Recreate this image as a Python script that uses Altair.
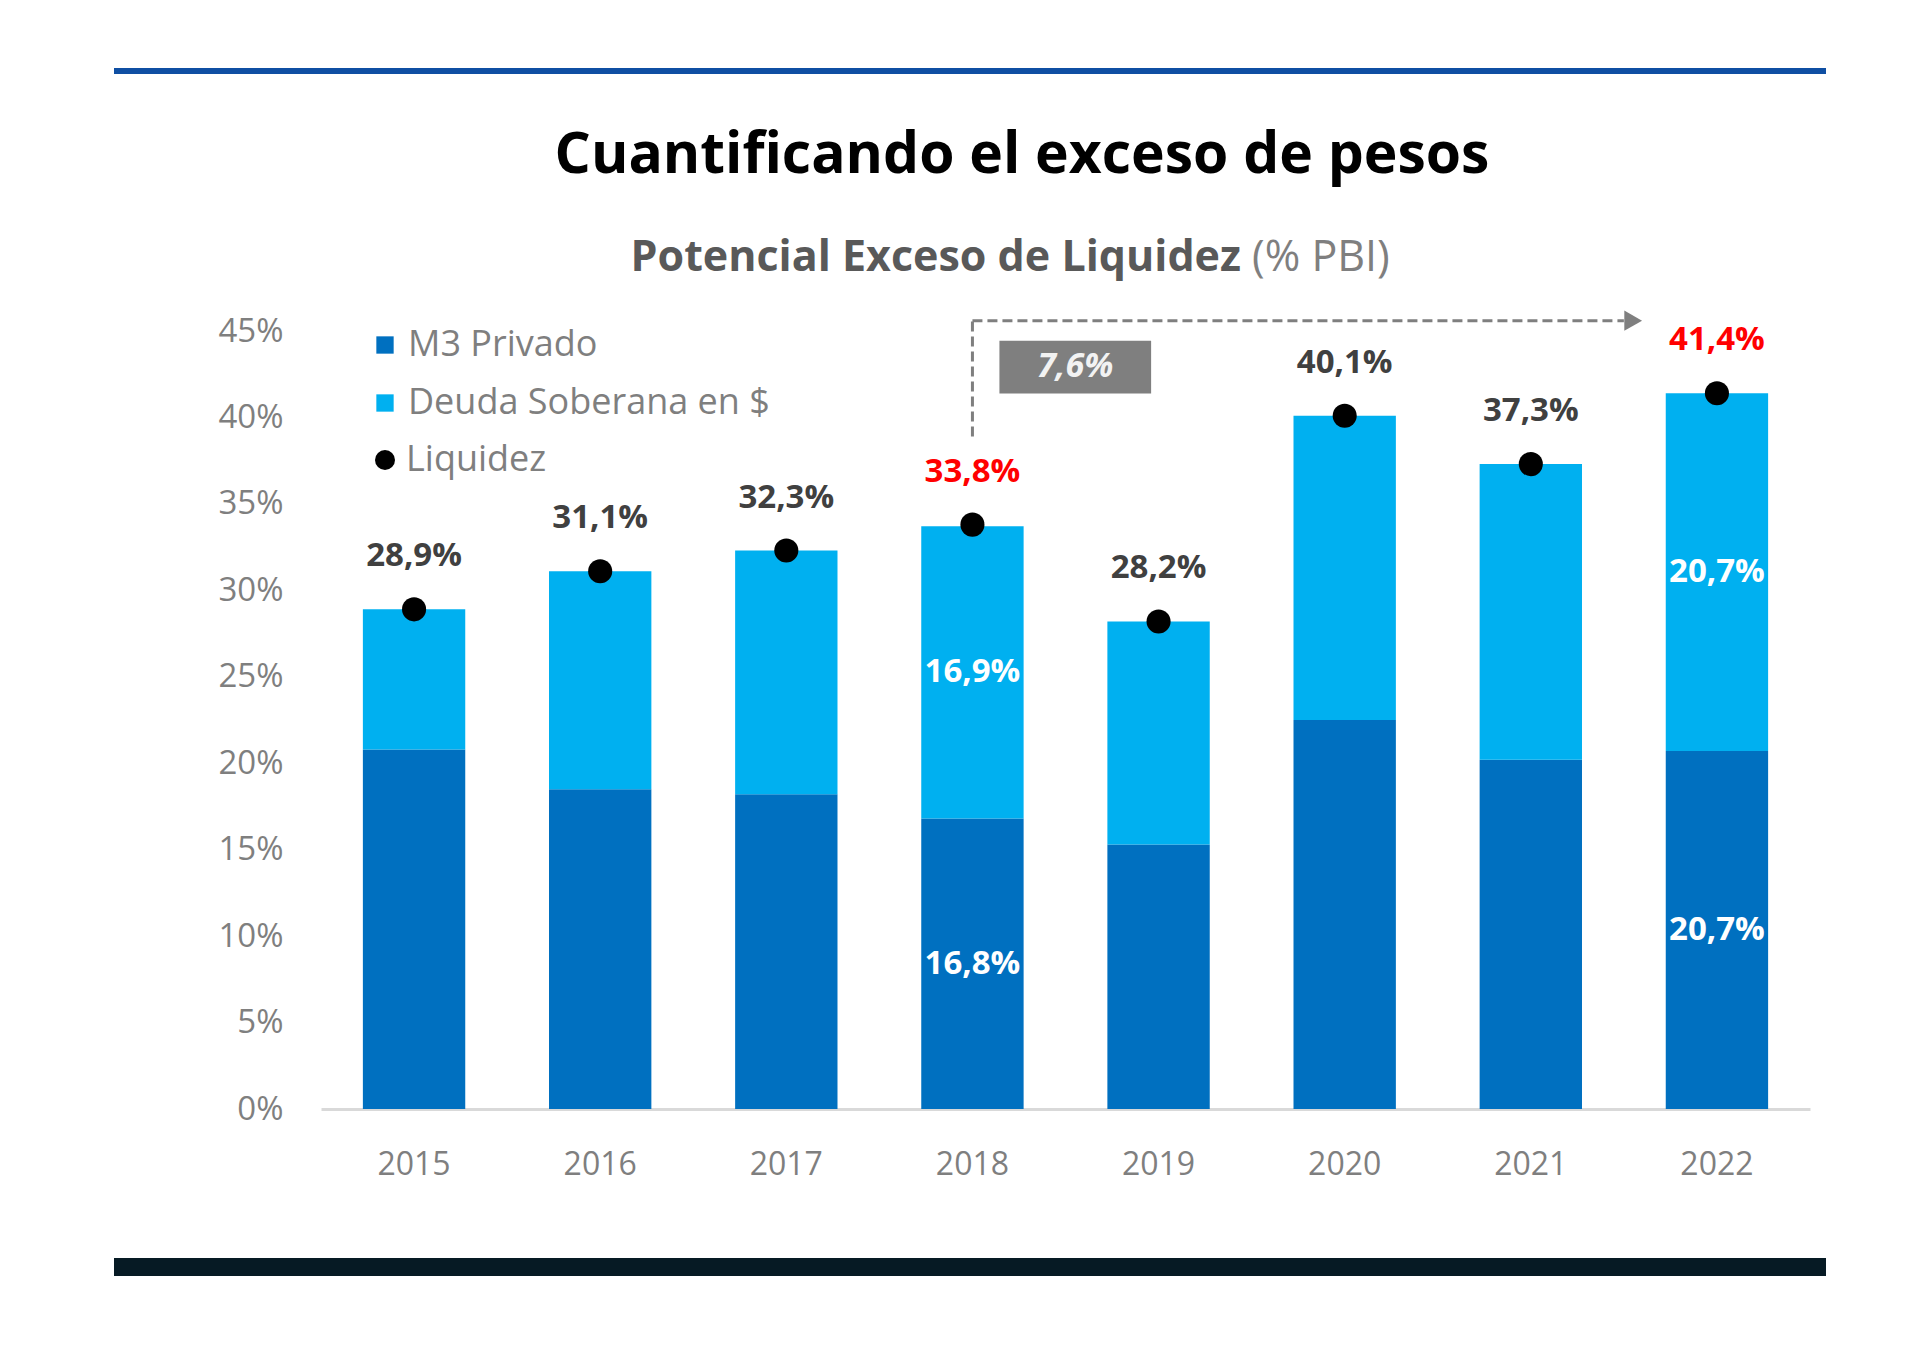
import altair as alt
import pandas as pd

# ---------------- data ----------------
years = ["2015", "2016", "2017", "2018", "2019", "2020", "2021", "2022"]
m3_privado = [20.8, 18.5, 18.2, 16.8, 15.3, 22.5, 20.2, 20.7]
deuda_soberana = [8.1, 12.6, 14.1, 16.9, 12.9, 17.6, 17.1, 20.7]
liquidez = [28.9, 31.1, 32.3, 33.8, 28.2, 40.1, 37.3, 41.4]
highlight_years = ["2018", "2022"]

series_names = ["M3 Privado", "Deuda Soberana en $"]
series_colors = ["#0070C0", "#00B0F0"]
point_name = "Liquidez"
y_ticks = [0, 5, 10, 15, 20, 25, 30, 35, 40, 45]

title_text = "Cuantificando el exceso de pesos"
subtitle_bold = "Potencial Exceso de Liquidez"
subtitle_rest = "(% PBI)"

# annotation (x in band-index units, y in % PBI)
arrow_x = [3.5, 7.0]
arrow_y = [38.9, 45.6]
arrow_head_x = 7.05
box_x = [3.645, 4.46]
box_y = [41.39, 44.43]
box_label = "7,6%"


def fmt(v):
    return f"{v:.1f}%".replace(".", ",")


# ---------------- tables ----------------
rows = []
for i, yr in enumerate(years):
    base = 0.0
    for name, vals in zip(series_names, [m3_privado, deuda_soberana]):
        v = vals[i]
        rows.append({"year": yr, "serie": name, "y0": base, "y1": base + v,
                     "mid": base + v / 2, "label": fmt(v),
                     "show": yr in highlight_years})
        base += v
bars_df = pd.DataFrame(rows)

liq_df = pd.DataFrame({
    "year": years,
    "liquidez": liquidez,
    "label": [fmt(v) for v in liquidez],
    "highlight": [y in highlight_years for y in years],
    "serie": [point_name] * len(years),
})

rule_df = pd.DataFrame({
    "x0": [arrow_x[0], arrow_x[0]],
    "x1": [arrow_x[0], arrow_x[1]],
    "y0": [arrow_y[0], arrow_y[1]],
    "y1": [arrow_y[1], arrow_y[1]],
})
head_df = pd.DataFrame({"x": [arrow_head_x], "y": [arrow_y[1]]})
box_df = pd.DataFrame({"x0": [box_x[0]], "x1": [box_x[1]], "y0": [box_y[0]], "y1": [box_y[1]],
                       "xm": [(box_x[0] + box_x[1]) / 2], "ym": [(box_y[0] + box_y[1]) / 2],
                       "label": [box_label]})

# ---------------- encodings ----------------
GREY = "#7f7f7f"
x_enc = alt.X("year:N", sort=years, title=None,
              scale=alt.Scale(paddingInner=0.45, paddingOuter=0.225),
              axis=alt.Axis(labelFontSize=32, labelColor=GREY, labelAngle=0,
                            domainColor="#d9d9d9", domainWidth=3, ticks=False,
                            labelPadding=40, grid=False))
y_scale = alt.Scale(domain=[0, 45], nice=False)
y_axis = alt.Axis(values=y_ticks, labelExpr="datum.value + '%'", labelFontSize=33,
                  labelColor=GREY, domain=False, ticks=False, grid=False,
                  labelPadding=38, title=None)

bars = alt.Chart(bars_df).mark_bar().encode(
    x=x_enc,
    y=alt.Y("y0:Q", scale=y_scale, axis=y_axis),
    y2="y1:Q",
    color=alt.Color("serie:N", scale=alt.Scale(domain=series_names, range=series_colors),
                    legend=alt.Legend(orient="none", legendX=46, legendY=-4, title=None,
                                      symbolType="square", symbolSize=300,
                                      labelFontSize=36, labelColor=GREY, padding=0,
                                      rowPadding=22, labelOffset=5, labelLimit=1000)),
)

inner_labels = alt.Chart(bars_df).transform_filter("datum.show").mark_text(
    color="white", fontWeight="bold", fontSize=33, baseline="middle"
).encode(x=alt.X("year:N", sort=years), y=alt.Y("mid:Q"), text="label:N")

points = alt.Chart(liq_df).mark_circle(size=580, opacity=1).encode(
    x=alt.X("year:N", sort=years),
    y=alt.Y("liquidez:Q"),
    fill=alt.Fill("serie:N", scale=alt.Scale(domain=[point_name], range=["#000000"]),
                  legend=alt.Legend(orient="none", legendX=46, legendY=111, title=None,
                                    symbolType="circle", symbolSize=400,
                                    labelFontSize=36, labelColor=GREY, padding=0,
                                    labelOffset=3, labelLimit=1000)),
)

total_labels = alt.Chart(liq_df).mark_text(
    fontWeight="bold", fontSize=33, dy=-53, baseline="middle"
).encode(
    x=alt.X("year:N", sort=years), y=alt.Y("liquidez:Q"), text="label:N",
    color=alt.condition("datum.highlight", alt.value("#FF0000"), alt.value("#404040")),
)

main = alt.layer(bars, inner_labels, points, total_labels)

ax = alt.Scale(domain=[0, 8], nice=False)
rules = alt.Chart(rule_df).mark_rule(strokeDash=[10, 5], strokeWidth=3, color=GREY).encode(
    x=alt.X("x0:Q", scale=ax, axis=None), x2="x1:Q",
    y=alt.Y("y0:Q"), y2="y1:Q")
head = alt.Chart(head_df).mark_point(shape="triangle-right", filled=True, size=420,
                                     color=GREY, opacity=1).encode(
    x=alt.X("x:Q", scale=ax, axis=None), y=alt.Y("y:Q"))
box = alt.Chart(box_df).mark_rect(color=GREY).encode(
    x=alt.X("x0:Q", scale=ax, axis=None), x2="x1:Q", y=alt.Y("y0:Q"), y2="y1:Q")
box_text = alt.Chart(box_df).mark_text(fontStyle="italic", fontWeight="bold", fontSize=34,
                                       color="#f2f2f2", baseline="middle").encode(
    x=alt.X("xm:Q", scale=ax, axis=None), y=alt.Y("ym:Q"), text="label:N")
annot = alt.layer(rules, head, box, box_text)

# ---------------- decorations / titles ----------------
one = pd.DataFrame({"t": [title_text], "s1": [subtitle_bold], "s2": [subtitle_rest]})
top_line = alt.Chart(one).mark_rule(color="#0f4fa3", strokeWidth=6).encode(
    x=alt.value(-207), x2=alt.value(1505), y=alt.value(-260))
bottom_line = alt.Chart(one).mark_rule(color="#061a24", strokeWidth=18).encode(
    x=alt.value(-207), x2=alt.value(1505), y=alt.value(936))
title = alt.Chart(one).mark_text(fontSize=57, fontWeight="bold", color="#000000",
                                 baseline="middle", align="center").encode(
    x=alt.value(701), y=alt.value(-175), text="t:N")
sub1 = alt.Chart(one).mark_text(fontSize=43, fontWeight="bold", color="#595959",
                                baseline="middle", align="right").encode(
    x=alt.value(920), y=alt.value(-73), text="s1:N")
sub2 = alt.Chart(one).mark_text(fontSize=43, color=GREY,
                                baseline="middle", align="left").encode(
    x=alt.value(931), y=alt.value(-73), text="s2:N")
deco = alt.layer(top_line, bottom_line, title, sub1, sub2)

chart = alt.layer(main, annot, deco).resolve_scale(x="independent").properties(
    width=1489, height=778,
    autosize=alt.AutoSizeParams(type="none"),
    padding={"left": 313, "top": 323, "right": 102, "bottom": 237},
    background="white",
).configure(font="Open Sans").configure_view(stroke=None)

chart.save("out.html", embed_options={"renderer": "svg", "actions": False})
